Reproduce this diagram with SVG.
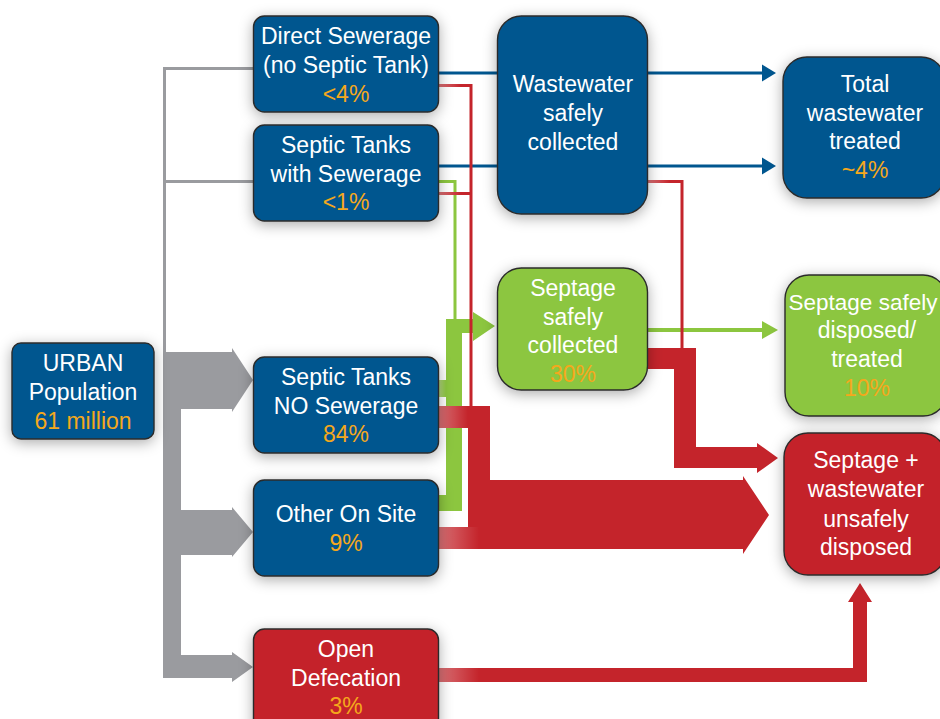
<svg xmlns="http://www.w3.org/2000/svg" width="940" height="719" viewBox="0 0 940 719">
<defs>
<filter id="sh" x="-30%" y="-30%" width="160%" height="160%">
<feDropShadow dx="0" dy="3" stdDeviation="7" flood-color="#000" flood-opacity="0.33"/>
</filter>
<linearGradient id="fade" x1="0" y1="0" x2="1" y2="0">
<stop offset="0" stop-color="#fff" stop-opacity="0.35"/>
<stop offset="1" stop-color="#fff" stop-opacity="0"/>
</linearGradient>
<style>
.blue{fill:#00568F}
.green{fill:#8CC63F}
.red{fill:#C4242B}
.box{stroke:#2b2b2b;stroke-width:1.4;filter:url(#sh)}
text{font-family:"Liberation Sans",Arial,Helvetica,sans-serif;font-size:23px;fill:#fff;text-anchor:middle}
.pct{fill:#F5A81C}
.gl{stroke:#9A9B9F;stroke-width:3;fill:none}
.bl{stroke:#00568F;stroke-width:3;fill:none}
.rl{stroke:#C4242B;stroke-width:3;fill:none}
.gnl{stroke:#8CC63F;stroke-width:3;fill:none}
</style>
</defs>
<rect width="940" height="719" fill="#fff"/>
<g id="connectors">
<path class="gl" d="M254,68.5 H164.5 V354 M254,181.5 H164.5"/>
<polygon fill="#9A9B9F" points="163,352 232,352 232,348 253,380 232,412 232,409 181,409 181,510 232,510 232,507 253,532 232,557 232,555 181,555 181,655 232,655 232,652 253,667 232,682 232,678 163,678"/>
<path class="bl" d="M439,73 H764 M439,166 H764"/>
<polygon fill="#00568F" points="762,64.5 776,73 762,81.5"/>
<polygon fill="#00568F" points="762,157.5 776,166 762,174.5"/>
<path class="gnl" d="M439,181.5 H455 V320"/>
<polygon fill="#8CC63F" points="446,319 473,319 473,312 495,326 473,341 473,333 462,333 462,511 439,511 439,495 446,495 446,397 439,397 439,380 446,380"/>
<path d="M648,330 H764" stroke="#8CC63F" stroke-width="4" fill="none"/>
<polygon fill="#8CC63F" points="762,321 778,330 762,339"/>
<path class="rl" d="M439,85.5 H471 V407 M439,193.5 H471"/>
<path class="rl" d="M648,181.5 H682 V349"/>
<polygon fill="#C4242B" points="439,406 490,406 490,480 743,480 743,476 769,515 743,554 743,549 439,549 439,527 468,527 468,428 439,428"/>
<polygon fill="#C4242B" points="648,348 696,348 696,447 757,447 757,443 778,458 757,473 757,468 674,468 674,369 648,369"/>
<polygon fill="#C4242B" points="439,668 853,668 853,602 848,602 860,583 872,602 867,602 867,682 439,682"/>
<rect x="439" y="84" width="22" height="3" fill="url(#fade)"/>
<rect x="439" y="192" width="22" height="3" fill="url(#fade)"/>
<rect x="648" y="180" width="22" height="3" fill="url(#fade)"/>
<rect x="439" y="380" width="7" height="17" fill="url(#fade)"/>
<rect x="439" y="406" width="29" height="22" fill="url(#fade)"/>
<rect x="439" y="527" width="40" height="22" fill="url(#fade)"/>
<rect x="439" y="668" width="40" height="14" fill="url(#fade)"/>
</g>
<g id="node-urban">
<rect class="box blue" x="12" y="343" width="142" height="96" rx="9"/>
<text x="83" y="371">URBAN</text>
<text x="83" y="400">Population</text>
<text x="83" y="429" class="pct">61 million</text>
</g>
<g id="node-direct-sewerage">
<rect class="box blue" x="253.5" y="16" width="185" height="96" rx="11"/>
<text x="346" y="44">Direct Sewerage</text>
<text x="346" y="73">(no Septic Tank)</text>
<text x="346" y="102" class="pct">&lt;4%</text>
</g>
<g id="node-septic-sewerage">
<rect class="box blue" x="253.5" y="125" width="185" height="96" rx="11"/>
<text x="346" y="153">Septic Tanks</text>
<text x="346" y="182">with Sewerage</text>
<text x="346" y="210" class="pct">&lt;1%</text>
</g>
<g id="node-septic-no-sewerage">
<rect class="box blue" x="253.5" y="357" width="185" height="96" rx="11"/>
<text x="346" y="385">Septic Tanks</text>
<text x="346" y="414">NO Sewerage</text>
<text x="346" y="442" class="pct">84%</text>
</g>
<g id="node-other-on-site">
<rect class="box blue" x="253.5" y="480" width="185" height="96" rx="11"/>
<text x="346" y="522">Other On Site</text>
<text x="346" y="551" class="pct">9%</text>
</g>
<g id="node-open-defecation">
<rect class="box red" x="253.5" y="629" width="185" height="110" rx="11"/>
<text x="346" y="657">Open</text>
<text x="346" y="686">Defecation</text>
<text x="346" y="714" class="pct">3%</text>
</g>
<g id="node-wastewater-collected">
<rect class="box blue" x="497.5" y="16" width="150" height="198" rx="24"/>
<text x="573" y="92">Wastewater</text>
<text x="573" y="121">safely</text>
<text x="573" y="150">collected</text>
</g>
<g id="node-septage-collected">
<rect class="box green" x="497.5" y="268" width="150" height="122" rx="24"/>
<text x="573" y="296">Septage</text>
<text x="573" y="325">safely</text>
<text x="573" y="353">collected</text>
<text x="573" y="382" class="pct">30%</text>
</g>
<g id="node-total-treated">
<rect class="box blue" x="783" y="57" width="162" height="141" rx="24"/>
<text x="865" y="92">Total</text>
<text x="865" y="121">wastewater</text>
<text x="865" y="149">treated</text>
<text x="865" y="178" class="pct">~4%</text>
</g>
<g id="node-septage-disposed">
<rect class="box green" x="785" y="275" width="162" height="141" rx="24"/>
<text x="863" y="310" style="font-size:22.5px">Septage safely</text>
<text x="867" y="338">disposed/</text>
<text x="867" y="367">treated</text>
<text x="867" y="396" class="pct">10%</text>
</g>
<g id="node-unsafe">
<rect class="box red" x="784" y="433" width="162" height="142" rx="24"/>
<text x="866" y="468">Septage +</text>
<text x="866" y="497">wastewater</text>
<text x="866" y="527">unsafely</text>
<text x="866" y="555">disposed</text>
</g>
</svg>
